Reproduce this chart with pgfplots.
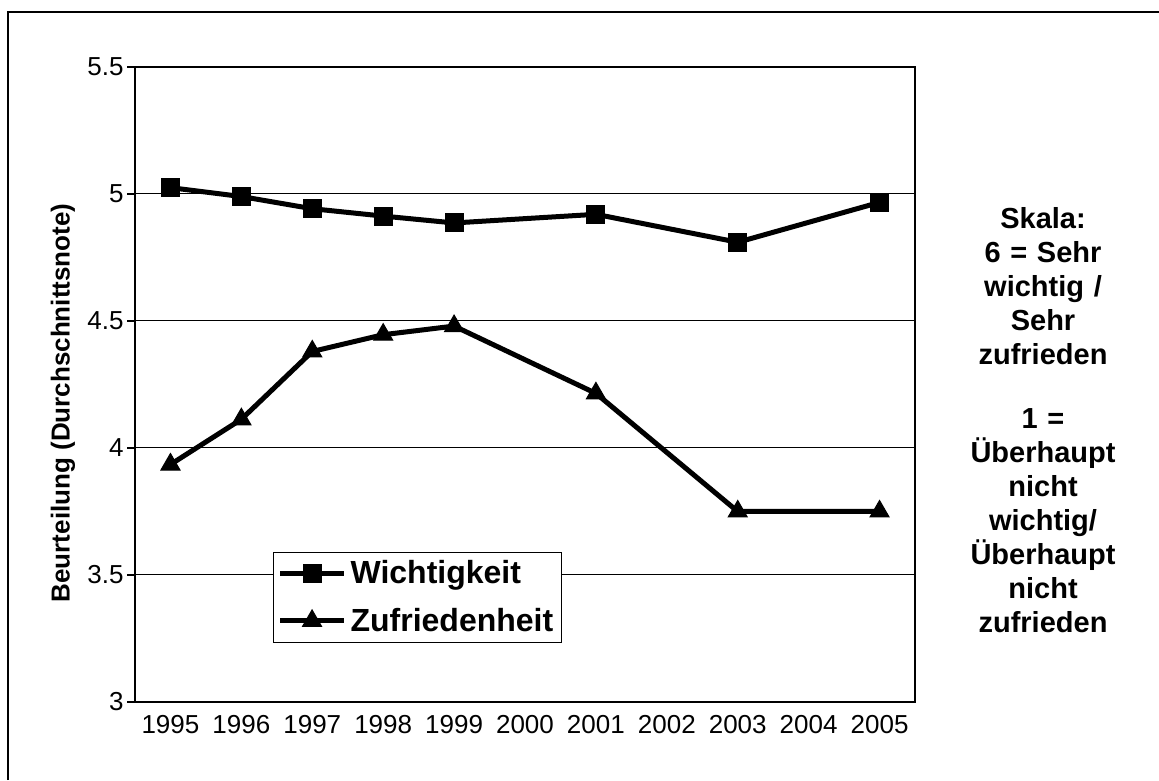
\documentclass[border=0pt]{standalone}
\usepackage{pgfplots}
\pgfplotsset{compat=1.18}
\usepackage{fontspec}
\setmainfont{Liberation Sans}
\begin{document}
\begin{tikzpicture}
\useasboundingbox (0,0) rectangle (579.5pt,390pt);
\draw[line width=0.8pt] (4pt,0pt) -- (4pt,384pt) -- (579.5pt,384pt);
\begin{axis}[
  at={(67.5pt,39pt)}, anchor=south west,
  scale only axis, width=390pt, height=317.5pt,
  xmin=-0.5, xmax=10.5, ymin=3, ymax=5.5,
  xtick pos=bottom, ytick pos=left,
  xtick={0,1,2,3,4,5,6,7,8,9,10},
  xticklabels={1995,1996,1997,1998,1999,2000,2001,2002,2003,2004,2005},
  x tick style={draw=none},
  extra x ticks={-0.5,0.5,1.5,2.5,3.5,4.5,5.5,6.5,7.5,8.5,9.5,10.5},
  extra x tick labels={},
  extra x tick style={grid=none, major tick length=3.5pt, tick align=outside, tick style={black, line width=0.6pt}},
  ytick={3,3.5,4,4.5,5,5.5},
  ymajorgrids,
  major grid style={black, line width=0.5pt},
  y tick style={black, line width=0.6pt},
  tick align=outside,
  major tick length=4pt,
  axis line style={line width=1pt},
  /pgf/number format/assume math mode=true,
  ticklabel style={font=\fontsize{13}{15}\selectfont},
  xticklabel style={yshift=1pt},
  yticklabel style={inner xsep=1.5pt},
  ylabel={Beurteilung (Durchschnittsnote)},
  ylabel style={at={(axis description cs:-0.0923,0.471)}, anchor=center, font=\bfseries\fontsize{13}{15}\selectfont},
  legend style={at={(axis description cs:0.177,0.236)}, anchor=north west, draw=black, line width=0.5pt,
    font=\bfseries\fontsize{16}{19}\selectfont, row sep=6.5pt, inner xsep=2pt, inner ysep=2pt},
  legend cell align=left,
  legend image code/.code={\draw[mark repeat=2,mark phase=2] plot coordinates {(0pt,0pt) (16pt,0pt) (32pt,0pt)};},
  clip=false,
]
\addplot[black, line width=2.5pt, mark=square*, mark size=4.5pt, mark options={solid, line width=0.5pt}]
  coordinates {(0,5.025) (1,4.99) (2,4.942) (3,4.913) (4,4.886) (6,4.92) (8,4.81) (10,4.967)};
\addlegendentry{Wichtigkeit}
\addplot[black, line width=2.5pt, mark=triangle*, mark size=5.5pt, mark options={solid, line width=0.5pt}]
  coordinates {(0,3.935) (1,4.113) (2,4.38) (3,4.446) (4,4.48) (6,4.215) (8,3.75) (10,3.75)};
\addlegendentry{Zufriedenheit}
\end{axis}
\node[align=center, text width=120pt, font=\bfseries\fontsize{14.5}{17}\selectfont] at (521.5pt,179.75pt)
  {Skala:\\6 = Sehr\\wichtig /\\Sehr\\zufrieden\\[15pt]1 =\\Überhaupt\\nicht\\wichtig/\\Überhaupt\\nicht\\zufrieden};
\end{tikzpicture}
\end{document}
